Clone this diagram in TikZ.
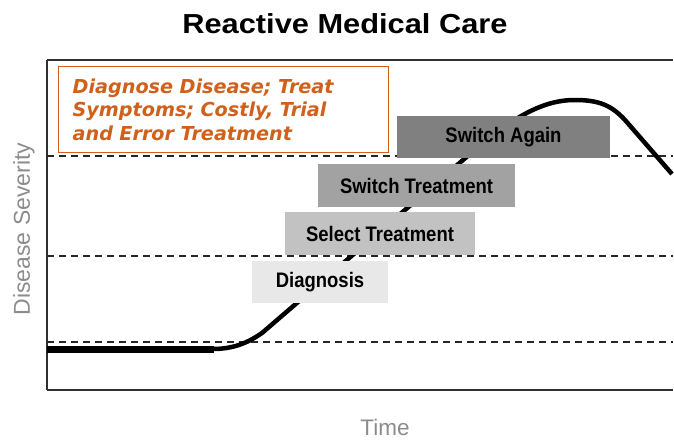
\documentclass[tikz,border=0pt]{standalone}
\usepackage{fontspec}
\newfontfamily\arialf{Liberation Sans}
\newfontfamily\verdf{DejaVu Sans}
\definecolor{orangeC}{HTML}{D0601A}
\definecolor{axisgray}{HTML}{8C8C8C}
\definecolor{g1}{HTML}{E8E8E8}
\definecolor{g2}{HTML}{C2C2C2}
\definecolor{g3}{HTML}{A2A2A2}
\definecolor{g4}{HTML}{808080}
\definecolor{frameC}{HTML}{303030}
\begin{document}
\begin{tikzpicture}[x=1pt,y=-1pt,
  stepbox/.style={rectangle,inner sep=0pt,text=black,font=\arialf\bfseries\fontsize{21}{24}\selectfont},
  levelline/.style={line width=1.4pt,dash pattern=on 7pt off 5pt,color=black!85},
  framel/.style={line width=1.5pt,color=frameC}]
\useasboundingbox (0,0) rectangle (674,439);
% title
\node[anchor=base,font=\arialf\bfseries\fontsize{27.5}{30}\selectfont] (title) at (345,33) {\scalebox{1.12}[1]{Reactive Medical Care}};
% axis labels
\node[rotate=90,text=axisgray,font=\arialf\fontsize{23}{26}\selectfont] (ylab) at (24,229) {Disease Severity};
\node[anchor=base,text=axisgray,font=\arialf\fontsize{22.5}{26}\selectfont,inner sep=0pt] (xlab) at (385,435) {Time};
% frame
\coordinate (tl) at (47,60);
\coordinate (tr) at (672.8,60);
\coordinate (bl) at (47,390);
\coordinate (br) at (672.8,390);
\draw[framel] (tl) -- (tr);
\draw[framel] (tl) -- (bl);
\draw[framel] (bl) -- (br);
% dashed levels
\coordinate (d1a) at (47,156); \coordinate (d1b) at (672.8,156);
\coordinate (d2a) at (47,256); \coordinate (d2b) at (672.8,256);
\coordinate (d3a) at (47,342); \coordinate (d3b) at (672.8,342);
\draw[levelline] (d1a) -- (d1b);
\draw[levelline] (d2a) -- (d2b);
\draw[levelline] (d3a) -- (d3b);
% disease curve
\coordinate (c0) at (47,349);
\coordinate (c1) at (214,349);
\coordinate (cend) at (672,174);
\draw[line width=7pt,line cap=butt] (c0) -- (c1);
\draw[line width=4.5pt,line join=round] (212,349) .. controls (232,349) and (246,344) .. (262,333)
  -- (470,154) .. controls (510,120) and (540,100) .. (575,100)
  .. controls (600,100) and (612,106) .. (625,120) -- (cend);
% steps
\node[stepbox,fill=g1,minimum width=136pt,minimum height=42pt] (diag) at (320,282) {\scalebox{0.88}[1]{Diagnosis}};
\node[stepbox,fill=g2,minimum width=190pt,minimum height=43pt] (sel) at (380,233.5) {\scalebox{0.88}[1]{Select Treatment}};
\node[stepbox,fill=g3,minimum width=197pt,minimum height=43pt] (swt) at (416.5,185.5) {\scalebox{0.88}[1]{Switch Treatment}};
\node[stepbox,fill=g4,minimum width=213pt,minimum height=42pt] (swa) at (503.5,137) {\scalebox{0.88}[1]{Switch Again}};
% orange note
\node[draw=orangeC,line width=1.3pt,fill=white,anchor=north west,minimum width=330pt,minimum height=86pt,
  text width=302pt,inner xsep=14pt,inner ysep=0pt,align=left,text=orangeC,
  font=\verdf\bfseries\itshape\fontsize{19.2}{23.5}\selectfont] (note) at (58,66)
  {Diagnose Disease; Treat\\Symptoms; Costly, Trial\\and Error Treatment};
\end{tikzpicture}
\end{document}
